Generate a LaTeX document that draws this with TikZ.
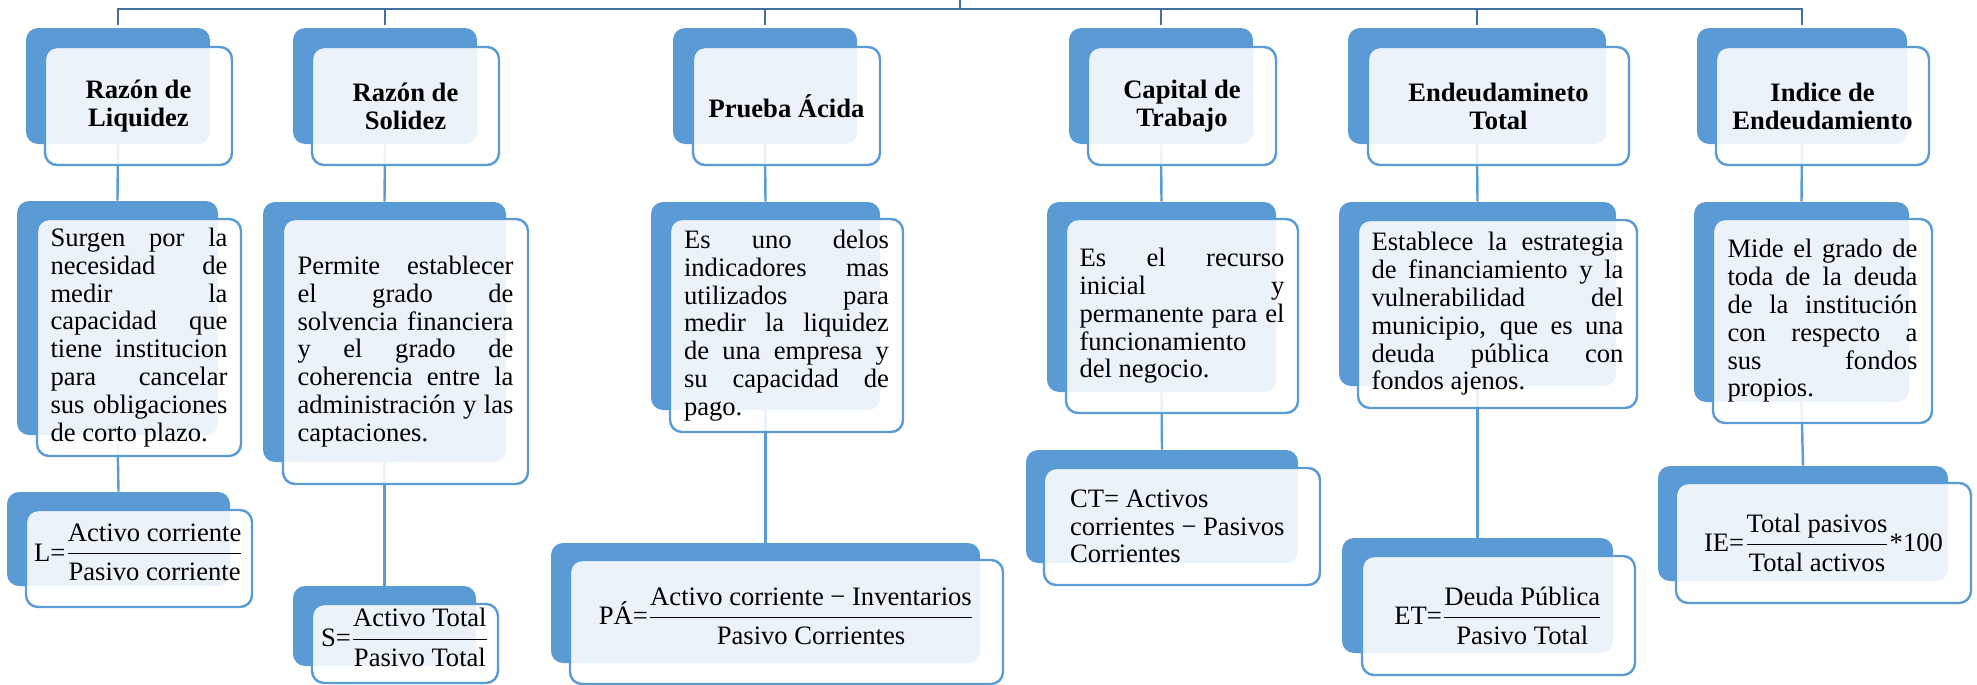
\documentclass[tikz,border=0pt]{standalone}
\usepackage{amsmath}
\usepackage{fontspec}
\setmainfont{Liberation Serif}
\usepackage{tikz}
\usetikzlibrary{fit,backgrounds}
\definecolor{boxblue}{RGB}{91,155,213}
\definecolor{busblue}{RGB}{65,113,156}
\hyphenpenalty=10000
\tolerance=10000
\hbadness=10000

\begin{document}
\begin{tikzpicture}[x=0.5pt,y=-0.5pt,
	back/.style={rectangle,rounded corners=6pt,fill=boxblue,inner sep=0pt},
	front/.style={rectangle,rounded corners=6pt,draw=boxblue,line width=1.2pt,fill=white,fill opacity=0.88,inner sep=0pt},
	txt/.style={inner sep=0pt,font=\fontsize{13.3}{13.9}\selectfont},
	head/.style={txt,align=center,font=\fontsize{13.3}{14}\selectfont\bfseries},
	link/.style={draw=boxblue,line width=1.2pt},
	bus/.style={draw=busblue,line width=1.4pt}]
			\useasboundingbox (0,0) rectangle (1977,685);
			% encabezados
			\node[back, fit={(26,28) (210,144)}] (liqB) {};
			\node[front, fit={(45,47) (232,165)}] (liq) {};
			\node[head] (liqT) at (liq) {Razón de\\Liquidez};
			\node[back, fit={(293,28) (477,144)}] (solB) {};
			\node[front, fit={(312,47) (499,165)}] (sol) {};
			\node[head] (solT) at (sol) {Razón de\\Solidez};
			\node[back, fit={(673,28) (857,144)}] (paB) {};
			\node[front, fit={(693,47) (880,165)}] (pa) {};
			\node[head] (paT) at (pa) {Prueba Ácida};
			\node[back, fit={(1069,28) (1253,144)}] (ctB) {};
			\node[front, fit={(1088,47) (1276,165)}] (ct) {};
			\node[head] (ctT) at (ct) {Capital de\\Trabajo};
			\node[back, fit={(1348,28) (1606,144)}] (etB) {};
			\node[front, fit={(1368,47) (1629,165)}] (et) {};
			\node[head] (etT) at (et) {Endeudamineto\\Total};
			\node[back, fit={(1697,28) (1907,144)}] (ieB) {};
			\node[front, fit={(1716,47) (1929,165)}] (ie) {};
			\node[head] (ieT) at (ie) {Indice de\\Endeudamiento};

			% descripciones
			\node[back, fit={(17,201) (218,435)}] (liqDB) {};
			\node[front, fit={(37,219) (241,456)}] (liqD) {};
			\node[txt] (liqDT) at (liqD) {\parbox{88.5pt}{Surgen por la\linebreak necesidad de\linebreak medir la\linebreak capacidad que\linebreak tiene institucion\linebreak para cancelar\linebreak sus obligaciones\linebreak de corto plazo.}};
			\node[back, fit={(263,202) (506,462)}] (solDB) {};
			\node[front, fit={(283,219) (528,484)}] (solD) {};
			\node[txt] (solDT) at (solD) {\parbox{108pt}{Permite establecer\linebreak el grado de\linebreak solvencia financiera\linebreak y el grado de\linebreak coherencia entre la\linebreak administración y las\linebreak captaciones.}};
			\node[back, fit={(651,202) (880,410)}] (paDB) {};
			\node[front, fit={(670,219) (903,432)}] (paD) {};
			\node[txt] (paDT) at (paD) {\parbox{102.5pt}{Es uno delos\linebreak indicadores mas\linebreak utilizados para\linebreak medir la liquidez\linebreak de una empresa y\linebreak su capacidad de\linebreak pago.}};
			\node[back, fit={(1047,202) (1276,392)}] (ctDB) {};
			\node[front, fit={(1066,219) (1298,413)}] (ctD) {};
			\node[txt] (ctDT) at (ctD) {\parbox{102.5pt}{Es el recurso\linebreak inicial y\linebreak permanente para el\linebreak funcionamiento\linebreak del negocio.}};
			\node[back, fit={(1339,202) (1616,386)}] (etDB) {};
			\node[front, fit={(1358,220) (1637,408)}] (etD) {};
			\node[txt] (etDT) at (etD) {\parbox{126pt}{Establece la estrategia\linebreak de financiamiento y la\linebreak vulnerabilidad del\linebreak municipio, que es una\linebreak deuda pública con\linebreak fondos ajenos.}};
			\node[back, fit={(1694,202) (1909,402)}] (ieDB) {};
			\node[front, fit={(1713,219) (1932,423)}] (ieD) {};
			\node[txt] (ieDT) at (ieD) {\parbox{95pt}{Mide el grado de\linebreak toda de la deuda\linebreak de la institución\linebreak con respecto a\linebreak sus fondos\linebreak propios.}};

			% formulas
			\node[back, fit={(7,492) (230,586)}] (liqFB) {};
			\node[front, fit={(26,510) (252,607)}] (liqF) {};
			\node[txt] (liqFT) at ([yshift=3pt]liqF) {L=$\dfrac{\text{Activo corriente}}{\text{Pasivo corriente}}$};
			\node[back, fit={(293,586) (476,666)}] (solFB) {};
			\node[front, fit={(312,604) (498,683)}] (solF) {};
			\node[txt] (solFT) at ([yshift=3pt]solF) {S=$\dfrac{\text{Activo Total}}{\text{Pasivo Total}}$};
			\node[back, fit={(551,543) (980,663)}] (paFB) {};
			\node[front, fit={(570,560) (1003,684)}] (paF) {};
			\node[txt] (paFT) at ([yshift=3pt]paF) {PÁ=$\dfrac{\text{Activo corriente − Inventarios}}{\text{Pasivo Corrientes}}$};
			\node[back, fit={(1026,450) (1298,563)}] (ctFB) {};
			\node[front, fit={(1044,468) (1320,585)}] (ctF) {};
			\node[txt] (ctFT) at (ctF) {\parbox{112pt}{\raggedright CT= Activos\\corrientes − Pasivos\\Corrientes}};
			\node[back, fit={(1342,538) (1613,653)}] (etFB) {};
			\node[front, fit={(1362,556) (1635,675)}] (etF) {};
			\node[txt] (etFT) at (etF) {ET=$\dfrac{\text{Deuda Pública}}{\text{Pasivo Total}}$};
			\node[back, fit={(1658,466) (1948,581)}] (ieFB) {};
			\node[front, fit={(1676,483) (1971,603)}] (ieF) {};
			\node[txt] (ieFT) at (ieF) {IE=$\dfrac{\text{Total pasivos}}{\text{Total activos}}$*100};

			% conectores
			\begin{scope}[on background layer]
				\coordinate (top) at (960,0);
				\coordinate (hub) at (960,9);
				\draw[bus] (top) -- (hub);
				\foreach \n in {liqB,solB,paB,ctB,etB,ieB}
					\draw[bus] ([yshift=1.5pt]\n.north) |- (hub);
				\foreach \n in {liq,sol,pa,ct,et,ie} {
					\draw[link] (\n B.south) -- (\n DB.north);
					\draw[link] (\n DB.south) -- (\n FB.north);
				}
			\end{scope}
		\end{tikzpicture}
\end{document}
